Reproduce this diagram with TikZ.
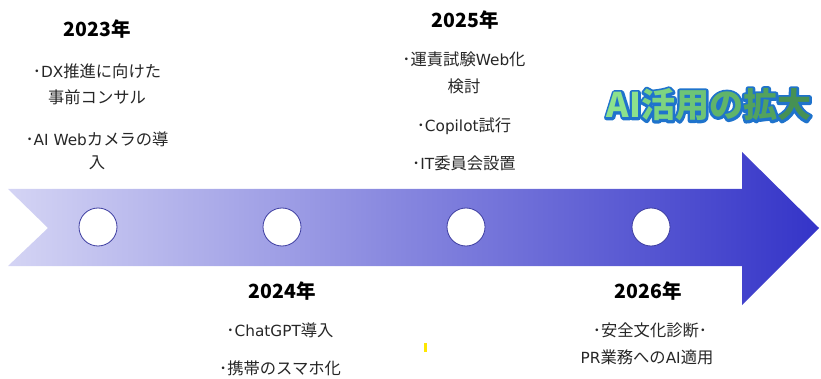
\documentclass[tikz,border=0pt]{standalone}
\usepackage{fontspec}
\setmainfont{Noto Sans CJK JP}
\newfontfamily\lat{DejaVu Sans}[Scale=0.94]
\definecolor{arrowL}{RGB}{212,212,244}
\definecolor{arrowR}{RGB}{52,52,200}
\definecolor{circ}{RGB}{60,60,160}
\definecolor{txt}{RGB}{38,38,38}
\definecolor{outl}{RGB}{30,115,205}
\definecolor{gA}{RGB}{140,226,140}
\definecolor{gB}{RGB}{125,212,128}
\definecolor{gC}{RGB}{110,196,118}
\definecolor{gD}{RGB}{96,180,106}
\definecolor{gE}{RGB}{82,162,94}
\definecolor{gF}{RGB}{70,145,84}
\newcommand\blt{･}
\newcommand\la[1]{{\lat #1}}
\begin{document}
\begin{tikzpicture}[x=1pt,y=-1pt,
  year/.style={font=\fontsize{19.5}{22}\selectfont\bfseries, text=black},
  item/.style={font=\fontsize{16.3}{20}\selectfont, text=txt},
  dot/.style={circle, minimum size=38pt, inner sep=0pt, fill=white, draw=circ, line width=0.8pt},
  ttl/.style={font=\fontsize{34}{36}\selectfont\bfseries}]
\useasboundingbox (0,0) rectangle (821,379);
% arrow
\shade[left color=arrowL, right color=arrowR]
  (8,189) -- (742,189) -- (742,152) -- (819,228) -- (742,305) -- (742,266) -- (8,266) -- (48,228) -- cycle;
% milestones
\node[dot] (m1) at (98,227) {};
\node[dot] (m2) at (282,227) {};
\node[dot] (m3) at (466,227) {};
\node[dot] (m4) at (651,227) {};
% 2023
\node[year] (y23) at (97,29) {2023年};
\node[item] (a1) at (97,71) {\blt\la{DX}推進に向けた};
\node[item] (a2) at (97,97) {事前コンサル};
\node[item] (a3) at (97,139) {\blt\la{AI Web}カメラの導};
\node[item] (a4) at (97,163) {入};
% 2025
\node[year] (y25) at (465,20) {2025年};
\node[item] (c1) at (464,59) {\blt 運責試験\la{Web}化};
\node[item] (c2) at (464,86) {検討};
\node[item] (c3) at (464,126) {\blt\la{Copilot}試行};
\node[item] (c4) at (464,163) {\blt\la{IT}委員会設置};
% 2024
\node[year] (y24) at (282,291) {2024年};
\node[item] (b1) at (280,330) {\blt\la{ChatGPT}導入};
\node[item] (b2) at (280,368) {\blt 携帯のスマホ化};
% 2026
\node[year] (y26) at (648,291) {2026年};
\node[item] (d1) at (650,330) {\blt 安全文化診断\blt};
\node[item] (d2) at (647,357) {\la{PR}業務への\la{AI}適用};
% small yellow mark
\fill[yellow!90!orange] (424,343) rectangle (427,352);
% title
\node[ttl, text=outl] (titleoutline) at (709,105)
  {\special{pdf:literal direct 1 Tr 5 w 1 j 1 J 0.12 0.45 0.80 RG}AI活用の拡大\special{pdf:literal direct 0 Tr 1 w}};
\node[ttl] (title) at (709,105) {\textcolor{gA}{A}\textcolor{gA}{I}\textcolor{gB}{活}\textcolor{gC}{用}\textcolor{gD}{の}\textcolor{gE}{拡}\textcolor{gF}{大}};
\end{tikzpicture}
\end{document}
